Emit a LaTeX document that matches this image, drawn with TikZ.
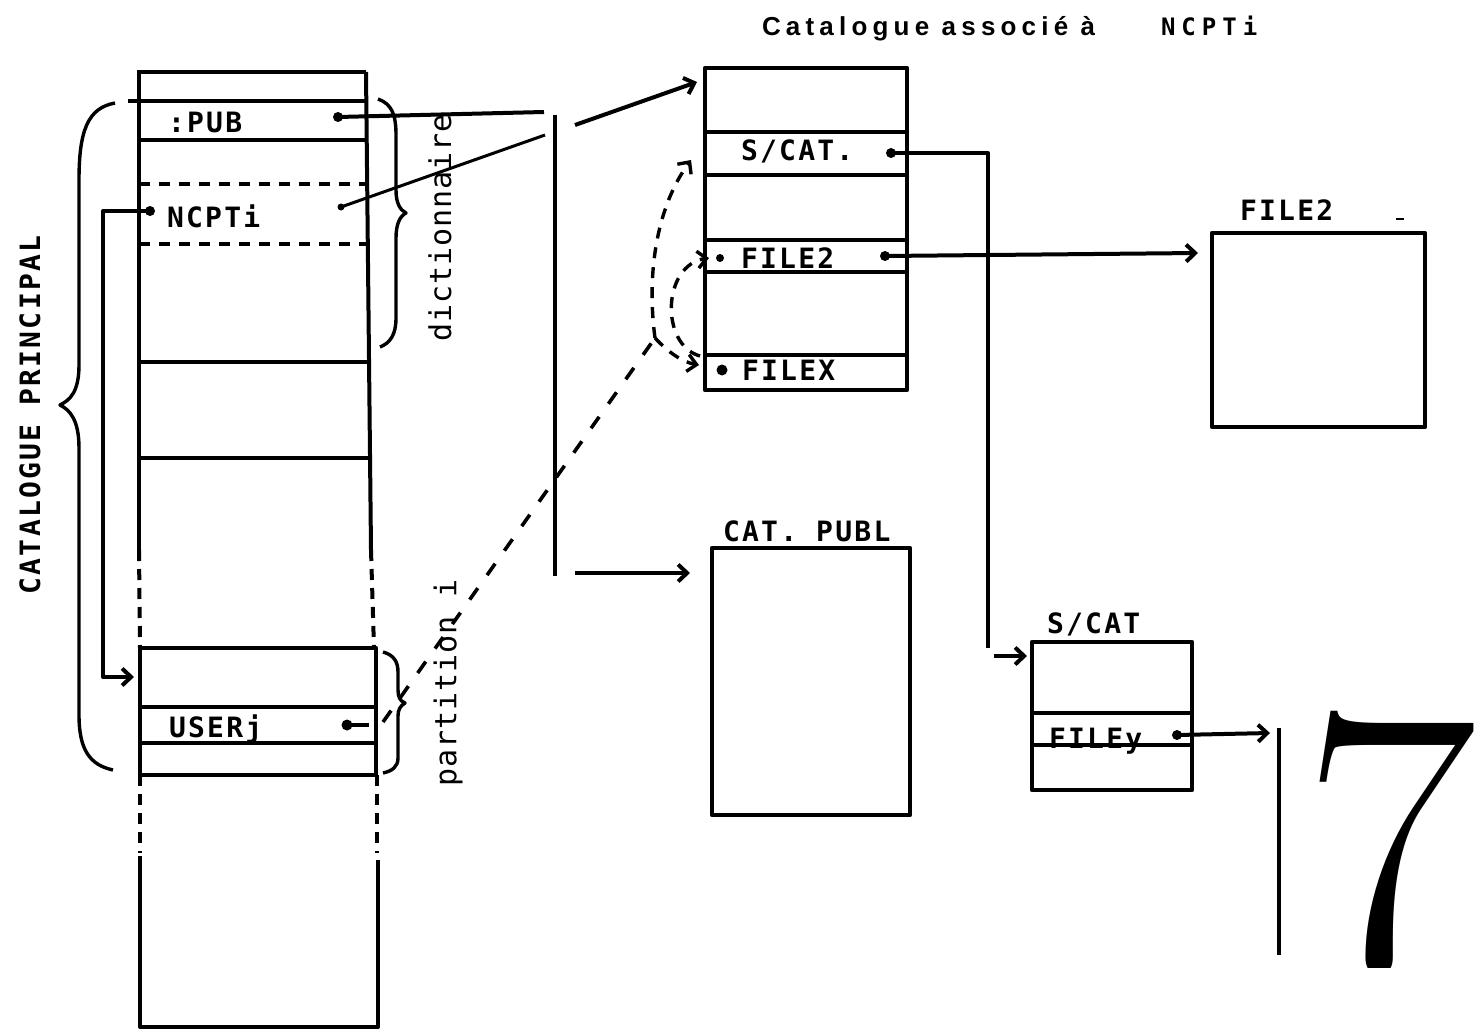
\documentclass[tikz,border=0pt]{standalone}
\usepackage{fontspec}
\usetikzlibrary{arrows.meta,calc}
\newfontfamily\tw{DejaVu Sans Mono}[LetterSpace=8]
\newfontfamily\lw{DejaVu Sans Mono}[LetterSpace=3]
\newfontfamily\tf{Liberation Sans}[LetterSpace=20]
\newfontfamily\tfm{DejaVu Sans Mono}[LetterSpace=25]
\begin{document}
\begin{tikzpicture}[x=1pt,y=-1pt,line width=4pt,line join=round,
  dotn/.style={circle,fill,inner sep=0pt,minimum size=10pt},
  lbl/.style={inner sep=0pt,anchor=base west,font=\tw\bfseries\fontsize{28}{28}\selectfont},
  vlbl/.style={inner sep=0pt,rotate=90,font=\lw\fontsize{30}{30}\selectfont},
  box/.style={draw,line width=4.5pt,inner sep=0pt,outer sep=0pt,anchor=north west},
  rowdash/.style={dash pattern=on 11pt off 9pt},
  sidedash/.style={dash pattern=on 11pt off 8pt},
  longdash/.style={dash pattern=on 14pt off 16pt,line width=3.6pt},
  curvdash/.style={dash pattern=on 11pt off 9pt,line width=3.4pt},
  arr/.style={-{Straight Barb[length=9pt,width=17pt]}}]
\fill[white] (0,0) rectangle (1481,1033);
\useasboundingbox (0,0) rectangle (1481,1033);

% title
\node[inner sep=0pt,anchor=base west,font=\tf\bfseries\fontsize{26}{26}\selectfont] (title) at (760,36) {Catalogue associé à};
\node[inner sep=0pt,anchor=base west,font=\tfm\bfseries\fontsize{24}{24}\selectfont] (titlen) at (1159,36) {NCPTi};

% main catalogue column
\draw (137,72) -- (366,72);
\draw (139,72) -- (139,550);
\draw (366,72) -- (371,550);
\draw (128,101) -- (367,101);
\draw (139,140) -- (367,140);
\draw[rowdash] (139,184) -- (367,184);
\draw[rowdash] (139,244) -- (367,244);
\draw (139,362) -- (369,362);
\draw (139,458) -- (370,458);
\draw[sidedash] (139,550) -- (140,648);
\draw[sidedash] (371,550) -- (374,648);
\node[box,minimum width=236pt,minimum height=127pt] (userbox) at (140,648) {};
\draw (140,707) -- (376,707);
\draw (140,743) -- (376,743);
\draw[sidedash] (140,775) -- (140,853);
\draw[sidedash] (377,775) -- (377,853);
\draw (140,856) -- (140,1027) -- (378,1027) -- (378,860);

% labels in main column
\node[lbl] (pub) at (166,132) {:PUB};
\node[dotn] (pubdot) at (338,117) {};
\node[lbl] (ncpt) at (165,227) {NCPTi};
\node[dotn] (ncptdot) at (150,211) {};
\node[dotn,minimum size=7pt] (ncptdotR) at (341,207) {};
\node[lbl] (userj) at (167,737) {USERj};
\node[dotn,minimum size=11pt] (userdot) at (347,725) {};

% braces
\draw[line width=3.4pt] (115,103) .. controls (88,108) and (79,130) .. (79,180) -- (79,365)
  .. controls (79,392) and (70,400) .. (60,405) .. controls (70,410) and (79,420) .. (79,448)
  -- (79,715) .. controls (79,750) and (90,765) .. (113,770);
\draw[line width=3.4pt] (378,99) .. controls (392,104) and (396,115) .. (396,135) -- (396,190)
  .. controls (396,203) and (400,210) .. (406,213) .. controls (400,216) and (396,224) .. (396,238)
  -- (396,318) .. controls (396,335) and (390,343) .. (380,347);
\draw[line width=3.4pt] (383,652) .. controls (394,655) and (398,662) .. (398,672) -- (398,690)
  .. controls (398,697) and (400,701) .. (405,703) .. controls (400,706) and (398,710) .. (398,716)
  -- (398,758) .. controls (398,767) and (392,771) .. (383,773);
\node[font=\tw\bfseries\fontsize{28}{28}\selectfont,inner sep=0pt,rotate=90] (catprinc) at (30,415) {CATALOGUE PRINCIPAL};
\node[vlbl] (dict) at (440,228) {dictionnaire};
\node[vlbl] (part) at (448,683) {partition i};

% fan bar and arrows
\coordinate (pubend) at (544,112);
\coordinate (ncptend) at (545,135);
\coordinate (fantop) at (555,115);
\coordinate (fanbot) at (555,576);
\coordinate (fanA) at (575,125);
\coordinate (fanB) at (575,573);
\draw (pubdot.center) -- (pubend);
\draw[line width=3pt] (ncptdotR.center) -- (ncptend);
\draw (fantop) -- (fanbot);

% catalogue associe
\node[box,minimum width=202pt,minimum height=322pt] (catbox) at (705,68) {};
\draw (705,132) -- (907,132);
\draw (705,175) -- (907,175);
\draw (705,240) -- (907,240);
\draw (705,272) -- (907,272);
\draw (705,355) -- (907,355);
\node[lbl] (scatl) at (739,160) {S/CAT.};
\node[dotn] (scatdot) at (891,153) {};
\node[lbl] (f2l) at (739,268) {FILE2};
\node[dotn,minimum size=8pt] (f2dotL) at (720,258) {};
\node[dotn] (f2dot) at (885,256) {};
\node[lbl] (fxl) at (740,380) {FILEX};
\node[dotn,minimum size=11pt] (fxdot) at (722,370) {};

\draw[arr] (fanA) -- ($(catbox.north west)+(-8,14)$);

% CAT. PUBL
\node[box,minimum width=198pt,minimum height=267pt] (pubbox) at (712,548) {};
\node[lbl] (publ) at (721,541) {CAT. PUBL};
\draw[arr] (fanB) -- ($(fanB -| pubbox.west)+(-22,0)$);

% FILE2 box
\node[box,minimum width=213pt,minimum height=194pt] (file2box) at (1212,233) {};
\node[lbl] (file2l) at (1238,220) {FILE2};
\draw[line width=2.5pt] (1396,219) -- (1404,219);
\draw[arr] (f2dot.center) -- ($(file2box.north west)+(-14,20)$);

% S/CAT box
\node[box,minimum width=160pt,minimum height=148pt] (scatbox) at (1032,642) {};
\draw (1032,713) -- (1192,713);
\draw (1032,745) -- (1192,745);
\node[lbl] (scatl2) at (1045,633) {S/CAT};
\node[lbl] (fyl) at (1047,748) {FILEy};
\node[dotn] (fydot) at (1177,735) {};
\coordinate (scatturn) at (988,648);
\coordinate (scatarr) at (994,656);
\draw (scatdot.center) -| (scatturn);
\draw[arr] (scatarr) -- ($(scatbox.north west)+(-5,14)$);

% FILEy link and bar
\coordinate (bart) at (1279,728);
\coordinate (barb) at (1279,955);
\draw[arr] (fydot.center) -- ($(bart)+(-9,5)$);
\draw (bart) -- (barb);
\begin{scope}
\clip (1290,690) rectangle (1481,967);
\node[inner sep=0pt,anchor=base west,font=\fontsize{380}{380}\selectfont] (seven) at (1300,968) {7};
\end{scope}

% NCPTi link to USER box
\draw[arr] (ncptdot.center) -- ++(-47,0) |- ($(userbox.north west)+(-6,29)$);

% dashed links
\coordinate (junc) at (655,338);
\draw (userdot.center) -- ++(22,0);
\draw[longdash] (383,722) -- (junc);
\draw[curvdash,arr] (junc) .. controls (646,270) and (658,205) .. ($(catbox.north west)+(-14,92)$);
\draw[curvdash,arr] (junc) .. controls (668,352) and (682,362) .. ($(fxdot)+(-23,-5)$);
\draw[curvdash,arr] ($(fxdot)+(-22,-14)$) .. controls (660,345) and (662,265) .. ($(f2dotL)+(-11,0)$);
\end{tikzpicture}
\end{document}
